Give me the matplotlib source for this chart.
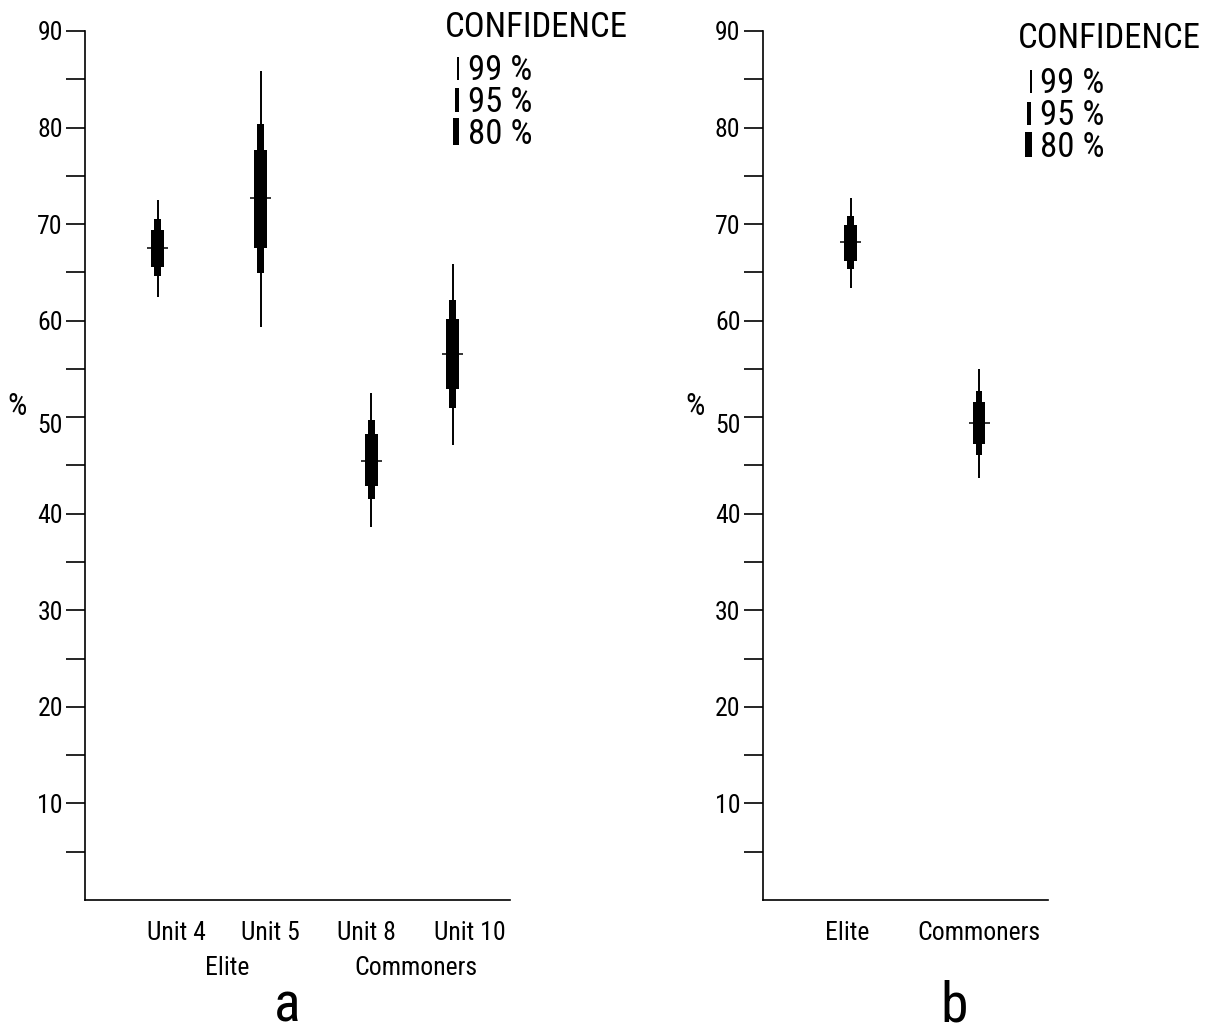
import matplotlib
matplotlib.use("Agg")
import matplotlib.pyplot as plt
from matplotlib.patches import Rectangle
from matplotlib.transforms import ScaledTranslation
from matplotlib import font_manager

# ---------------- data ----------------
units_a = ["Unit 4", "Unit 5", "Unit 8", "Unit 10"]
groups_a = ["Elite", "Commoners"]
median_a = [67.5, 72.7, 45.5, 56.5]
ci99_lo_a = [62.5, 59.3, 38.6, 47.1]
ci99_hi_a = [72.5, 85.9, 52.5, 65.9]
ci95_lo_a = [64.6, 64.9, 41.5, 51.0]
ci95_hi_a = [70.5, 80.4, 49.7, 62.1]
ci80_lo_a = [65.6, 67.5, 42.9, 52.9]
ci80_hi_a = [69.4, 77.7, 48.3, 60.2]

groups_b = ["Elite", "Commoners"]
median_b = [68.1, 49.4]
ci99_lo_b = [63.4, 43.7]
ci99_hi_b = [72.7, 55.0]
ci95_lo_b = [65.3, 46.1]
ci95_hi_b = [70.8, 52.7]
ci80_lo_b = [66.2, 47.2]
ci80_hi_b = [69.9, 51.6]

major_ticks = [10, 20, 30, 40, 50, 60, 70, 80, 90]
minor_ticks = [5, 15, 25, 35, 45, 55, 65, 75, 85]
legend_labels = ["99 %", "95 %", "80 %"]

# ---------------- fonts ----------------
names = {f.name for f in font_manager.fontManager.ttflist}
FAM, STRETCH = ["DejaVu Sans"], "condensed"
for cand in ["Liberation Sans Narrow", "Arial Narrow", "Roboto Condensed",
             "Noto Sans Condensed", "Open Sans Condensed"]:
    if cand in names:
        FAM, STRETCH = [cand, "DejaVu Sans"], "normal"
        break
plt.rcParams["font.family"] = FAM
plt.rcParams["font.stretch"] = STRETCH

W, H = 1208, 1032
fig = plt.figure(figsize=(W / 100, H / 100), dpi=100)

FS_TICK = 18.5
FS_XLAB = 18.5
FS_TITLE = 25
FS_LEG = 25
FS_PANEL = 40
FS_PCT = 22


def fx(px):
    return px / W


def fy(py):
    return 1 - py / H


def make_axes(left_px, right_px):
    ax = fig.add_axes([fx(left_px), fy(900), (right_px - left_px) / W, (900 - 31) / H])
    ax.set_xlim(0, (right_px - left_px) / 100)
    ax.set_ylim(0, 90)
    for s in ["top", "right"]:
        ax.spines[s].set_visible(False)
    for s in ["left", "bottom"]:
        ax.spines[s].set_linewidth(1.2)
    ax.set_xticks([])
    ax.set_yticks(major_ticks)
    ax.set_yticks(minor_ticks, minor=True)
    ax.set_yticklabels([str(t) for t in major_ticks])
    ax.tick_params(axis="y", which="both", length=14, width=1.2, direction="out",
                   labelsize=FS_TICK, pad=2)
    ax.tick_params(axis="y", which="minor", labelleft=False)
    for lab in ax.get_yticklabels():
        if lab.get_text() == "50":
            lab.set_transform(lab.get_transform() + ScaledTranslation(0, -0.06, fig.dpi_scale_trans))
    return ax


def draw(ax, xs, med, lo99, hi99, lo95, hi95, lo80, hi80):
    ax.vlines(xs, lo99, hi99, colors="black", linewidth=1.4)
    ax.bar(xs, [h - l for l, h in zip(lo95, hi95)], bottom=lo95, width=0.067,
           color="black", linewidth=0)
    ax.bar(xs, [h - l for l, h in zip(lo80, hi80)], bottom=lo80, width=0.127,
           color="black", linewidth=0)
    ax.hlines(med, [x - 0.105 for x in xs], [x + 0.105 for x in xs],
              colors="black", linewidth=1.1)


def legend(title_x, title_base, bar_specs, text_x, bases):
    fig.text(fx(title_x), fy(title_base), "CONFIDENCE", fontsize=FS_TITLE, va="baseline", ha="left")
    for (x0, x1, y0, y1), lab, b in zip(bar_specs, legend_labels, bases):
        fig.add_artist(Rectangle((fx(x0), fy(y1)), (x1 - x0) / W, (y1 - y0) / H,
                                 transform=fig.transFigure, color="black", linewidth=0))
        fig.text(fx(text_x), fy(b), lab, fontsize=FS_LEG, va="baseline", ha="left")


# ---------------- panel a ----------------
axa = make_axes(85, 510)
xa = [0.727, 1.757, 2.863, 3.677]
draw(axa, xa, median_a, ci99_lo_a, ci99_hi_a, ci95_lo_a, ci95_hi_a, ci80_lo_a, ci80_hi_a)
for lab, px in zip(units_a, [176.7, 270, 366.7, 470]):
    fig.text(fx(px), fy(940), lab, fontsize=FS_XLAB, ha="center", va="baseline")
for lab, px in zip(groups_a, [226.7, 415.8]):
    fig.text(fx(px), fy(975), lab, fontsize=FS_XLAB, ha="center", va="baseline")
fig.text(fx(286.7), fy(1032), "a", fontsize=FS_PANEL, ha="center", va="bottom")
fig.text(fx(17.5), fy(415), "%", fontsize=FS_PCT, ha="center", va="baseline")
legend(445, 36.7,
       [(456.7, 458.7, 56.7, 80), (455.2, 459.2, 88, 111.7), (453.3, 459.3, 118, 145)],
       468, [80, 111.7, 144])

# ---------------- panel b ----------------
axb = make_axes(762.7, 1048)
xb = [0.88, 2.163]
draw(axb, xb, median_b, ci99_lo_b, ci99_hi_b, ci95_lo_b, ci95_hi_b, ci80_lo_b, ci80_hi_b)
for lab, px in zip(groups_b, [846.7, 978.8]):
    fig.text(fx(px), fy(940), lab, fontsize=FS_XLAB, ha="center", va="baseline")
fig.text(fx(954), fy(1032), "b", fontsize=FS_PANEL, ha="center", va="bottom")
fig.text(fx(695), fy(415), "%", fontsize=FS_PCT, ha="center", va="baseline")
legend(1018, 48.3,
       [(1030, 1031.5, 70, 92.7), (1027.3, 1030.5, 101.7, 125), (1025, 1032.3, 131.7, 156.7)],
       1040, [92.7, 125, 156.7])

fig.savefig("out.png", dpi=100, facecolor="white")
